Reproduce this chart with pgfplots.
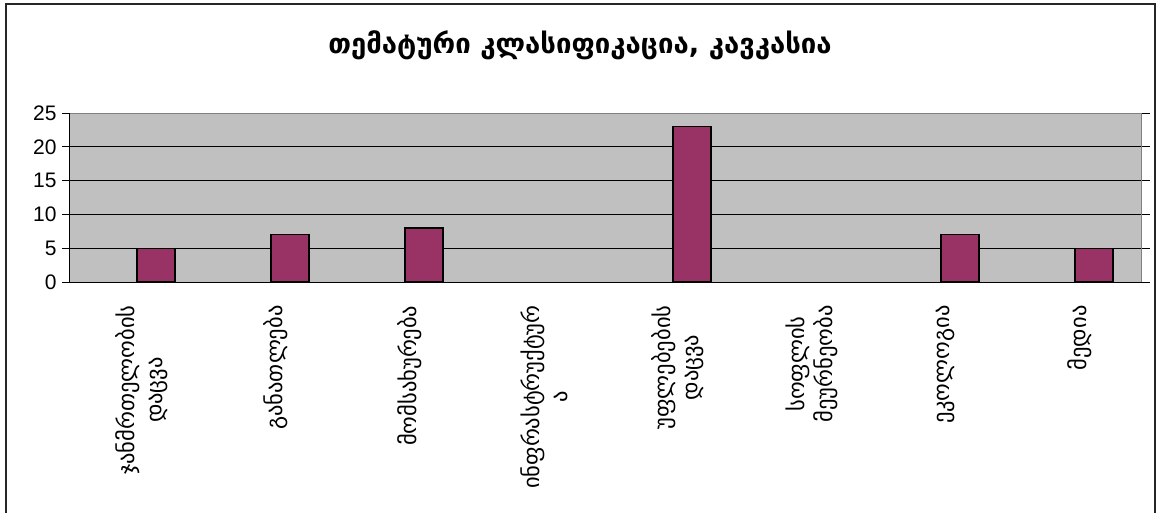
\documentclass[border=0pt]{standalone}
\usepackage{fontspec}
\setmainfont{Liberation Sans}
\newfontfamily\geo[Script=Georgian]{DejaVu Sans}
\usepackage{pgfplots}
\pgfplotsset{compat=1.18}
\definecolor{barcol}{HTML}{993366}
\definecolor{plotbg}{HTML}{C0C0C0}
\begin{document}
\begin{tikzpicture}[x=1pt,y=1pt]
\useasboundingbox (-70,-230) rectangle (1088,282);
\fill[white] (-70,-230) rectangle (1088,282);
\draw[line width=1.3pt, black!85] (-64,-240) -- (-64,278) -- (1085,278) -- (1085,-240);
\node[font=\geo\bfseries\fontsize{27.5}{30}\selectfont] at (510,237) {თემატური კლასიფიკაცია, კავკასია};
\begin{axis}[
  at={(0,0)}, anchor=south west,
  scale only axis, width=1072pt, height=169pt,
  xmin=-0.5, xmax=7.5, ymin=0, ymax=25,
  axis background/.style={fill=plotbg},
  axis line style={draw=none},
  ytick={0,5,10,15,20,25},
  ymajorgrids, grid style={black, line width=0.8pt},
  major tick length=8pt,
  tick align=outside,
  ytick style={black, line width=0.8pt},
  xtick={0,1,2,3,4,5,6,7},
  extra x ticks={0.5,1.5,2.5,3.5,4.5,5.5,6.5},
  extra x tick labels={},
  extra x tick style={xtick style={gray!80!black, line width=0.8pt}, grid=none},
  xtick style={draw=none},
  xticklabels={{ჯანმრთელობის\\დაცვა},{განათლება},{მომსახურება},{ინფრასტრუქტურ\\ა},{უფლებების\\დაცვა},{სოფლის\\მეურნეობა},{ეკოლოგია},{მედია}},
  xticklabel style={rotate=90, anchor=east, align=center, font=\geo\fontsize{22.5}{28}\selectfont, xshift=-12pt, yshift=-5pt},
  yticklabel style={font=\fontsize{21}{24}\selectfont, xshift=-2pt},
  /pgf/number format/assume math mode=true,
  clip=false,
]
\addplot[ybar, bar width=38pt, bar shift=19pt, fill=barcol, draw=black, line width=1.2pt,
  restrict y to domain=0.1:100]
  coordinates {(0,5) (1,7) (2,8) (3,0) (4,23) (5,0) (6,7) (7,5)};
\draw[gray, line width=1pt] (axis cs:-0.5,25) -- (axis cs:7.5,25) -- (axis cs:7.5,0);
\draw[black, line width=1pt] (axis cs:-0.5,25) -- (axis cs:-0.5,0) -- (axis cs:7.5,0);
\end{axis}
\end{tikzpicture}
\end{document}
